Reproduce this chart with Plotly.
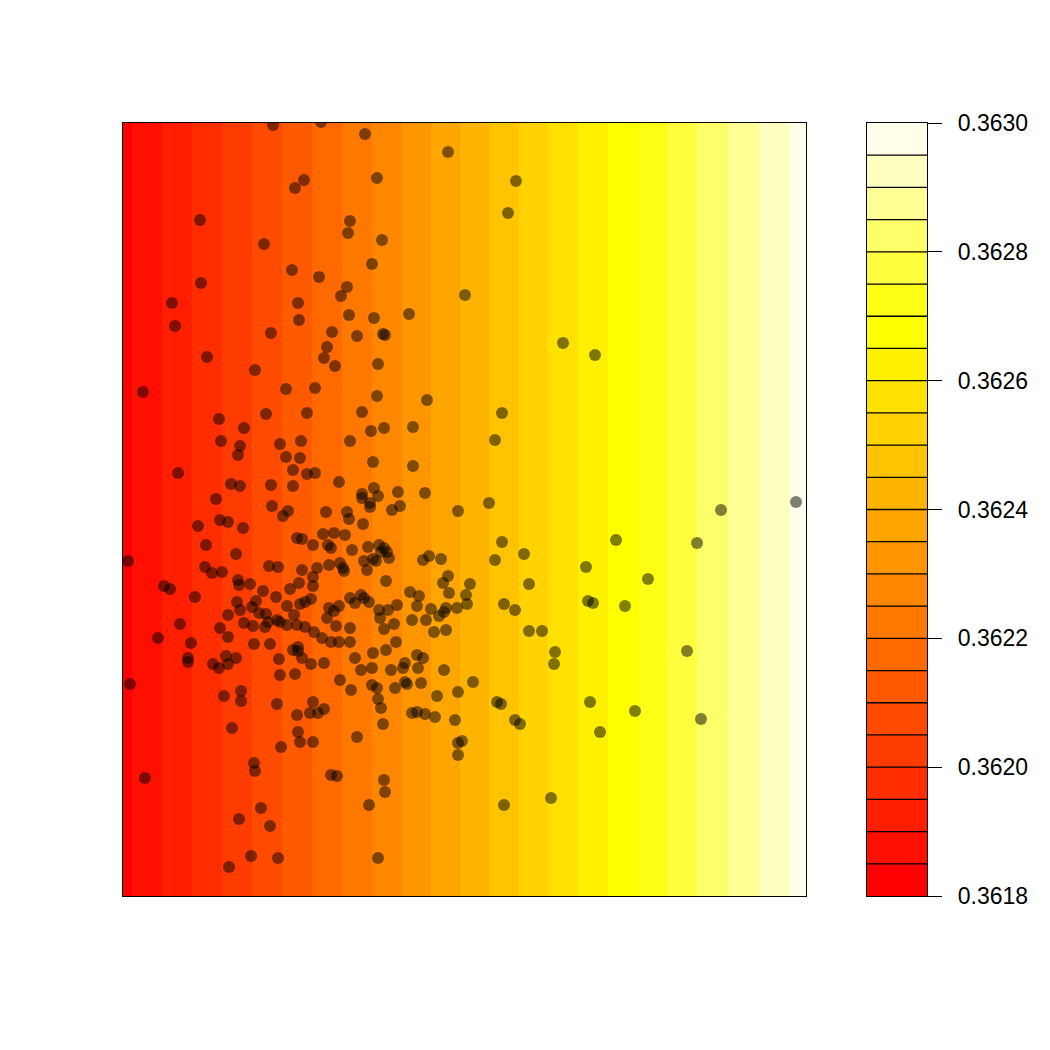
import plotly.graph_objects as go

# ---------------- data ----------------
# contour levels (filled.contour style): 0.3618 .. 0.3630 step 0.00005
levels = [0.3618, 0.36185, 0.3619, 0.36195, 0.3620, 0.36205, 0.3621, 0.36215,
          0.3622, 0.36225, 0.3623, 0.36235, 0.3624, 0.36245, 0.3625, 0.36255,
          0.3626, 0.36265, 0.3627, 0.36275, 0.3628, 0.36285, 0.3629, 0.36295, 0.3630]
tick_vals = [0.3618, 0.3620, 0.3622, 0.3624, 0.3626, 0.3628, 0.3630]

# field: x positions where the surface crosses each interior level (surface varies along x only)
field_xmin, field_xmax = 0, 683
field_ymin, field_ymax = 0, 773
level_crossings_x = [9.3, 39.3, 69.3, 99.3, 129.3, 159.3, 189.3, 219.3, 249.3, 279.3,
                     307.7, 337.0, 366.3, 396.0, 425.3, 455.3, 485.3, 515.3, 544.3,
                     574.3, 604.7, 636.0, 667.0]

# heat.colors(24)
heat_colors = ["#FF0000", "#FF0F00", "#FF1E00", "#FF2D00", "#FF3C00", "#FF4B00",
               "#FF5A00", "#FF6900", "#FF7800", "#FF8700", "#FF9600", "#FFA500",
               "#FFB400", "#FFC300", "#FFD200", "#FFE100", "#FFF000", "#FFFF00",
               "#FFFF15", "#FFFF40", "#FFFF6A", "#FFFF95", "#FFFFBF", "#FFFFEA"]

# observation points
pts_x = [150, 198, 242, 181, 172, 254, 77, 227, 225, 141, 259, 169, 249, 78, 196, 224, 218, 49,
         175, 176, 226, 251, 286, 52, 148, 209, 234, 260, 262, 204, 201, 212, 84, 132, 255, 20,
         163, 192, 254, 325, 393, 385, 342, 440, 472, 304, 379, 290, 372, 290, 302, 366, 335,
         598, 673, 96, 121, 143, 98, 117, 115, 157, 163, 178, 177, 170, 55, 108, 117, 148, 170,
         93, 149, 160, 165, 97, 105, 120, 75, 83, 113, 174, 5, 82, 89, 99, 146, 155, 115, 116,
         127, 41, 47, 140, 167, 72, 153, 114, 117, 133, 129, 164, 105, 136, 143, 145, 154, 157,
         164, 121, 130, 142, 57, 97, 105, 35, 68, 131, 147, 170, 65, 65, 103, 113, 90, 96, 105,
         156, 172, 157, 7, 101, 118, 118, 154, 184, 239, 248, 261, 227, 184, 192, 250, 216, 251,
         239, 239, 255, 247, 247, 275, 277, 269, 203, 224, 226, 240, 179, 190, 200, 211, 222,
         205, 208, 229, 245, 256, 261, 264, 266, 258, 241, 250, 253, 244, 206, 217, 220, 221,
         179, 194, 190, 176, 190, 263, 300, 306, 318, 325, 320, 347, 326, 343, 344, 334, 323,
         321, 316, 308, 287, 296, 294, 289, 303, 311, 323, 227, 232, 238, 241, 246, 177, 182,
         188, 204, 206, 211, 216, 171, 174, 182, 256, 265, 274, 257, 261, 271, 213, 227, 191,
         199, 208, 216, 227, 273, 175, 175, 179, 188, 201, 232, 250, 263, 294, 300, 282, 280,
         295, 238, 249, 268, 321, 217, 282, 284, 298, 272, 249, 254, 228, 350, 335, 314, 255,
         258, 190, 201, 195, 187, 174, 289, 294, 302, 312, 332, 260, 109, 175, 177, 190, 158,
         234, 335, 339, 335, 131, 132, 22, 208, 214, 261, 262, 246, 138, 116, 147, 128, 155,
         255, 106, 379, 493, 574, 372, 401, 463, 525, 406, 381, 392, 465, 470, 502, 406, 419,
         432, 431, 564, 374, 378, 467, 512, 578, 392, 397, 477, 381, 428]
pts_y = [771, 774, 762, 716, 708, 718, 676, 675, 663, 652, 656, 626, 632, 613, 619, 609, 600, 593,
         593, 576, 581, 578, 582, 570, 563, 564, 560, 562, 561, 549, 538, 530, 539, 526, 532, 504,
         507, 508, 500, 744, 715, 683, 601, 553, 541, 496, 483, 469, 456, 430, 403, 393, 385,
         386, 394, 477, 468, 482, 455, 450, 441, 452, 439, 455, 438, 426, 423, 412, 410, 411, 410,
         397, 390, 380, 385, 376, 374, 368, 370, 351, 342, 358, 335, 329, 323, 324, 330, 329, 316, 311,
         312, 310, 307, 305, 307, 299, 299, 294, 286, 295, 289, 290, 281, 283, 282, 274, 276, 274,
         271, 273, 270, 269, 272, 268, 259, 258, 253, 252, 252, 246, 238, 234, 240, 238, 232, 228, 232,
         237, 222, 221, 212, 200, 205, 195, 192, 483, 484, 465, 468, 455, 422, 423, 434, 414, 408,
         402, 398, 400, 393, 389, 404, 390, 386, 384, 384, 377, 372, 357, 351, 362, 363, 361,
         351, 348, 346, 349, 351, 348, 344, 338, 344, 335, 337, 335, 326, 331, 333, 328, 325,
         326, 328, 319, 313, 310, 315, 336, 340, 337, 320, 313, 312, 303, 301, 292, 288, 288,
         284, 280, 287, 304, 300, 290, 276, 276, 264, 266, 298, 293, 301, 298, 294, 292, 294,
         297, 278, 288, 285, 290, 281, 271, 269, 286, 286, 291, 278, 267, 272, 270, 268, 264,
         258, 254, 254, 254, 254, 249, 245, 238, 232, 233, 238, 243, 246, 241, 238, 233, 228,
         228, 226, 228, 226, 226, 216, 214, 212, 213, 208, 211, 208, 206, 214, 204, 200, 197,
         188, 194, 187, 183, 183, 181, 183, 184, 182, 179, 176, 172, 168, 164, 154, 154, 149,
         159, 153, 155, 141, 133, 125, 118, 121, 120, 116, 104, 91, 88, 77, 70, 40, 38,
         38, 29, 354, 356, 353, 336, 342, 329, 317, 312, 292, 286, 295, 293, 290, 265, 265,
         244, 232, 245, 194, 192, 194, 185, 177, 176, 172, 164, 91, 98]

# ---------------- derived structures ----------------
band_mid = [(levels[i] + levels[i + 1]) / 2 for i in range(len(levels) - 1)]
n = len(heat_colors)
colorscale = []
for i, c in enumerate(heat_colors):
    colorscale.append([i / n, c])
    colorscale.append([(i + 1) / n, c])

field_x_edges = [field_xmin] + level_crossings_x + [field_xmax]

fig = go.Figure()

# filled surface (bands)
fig.add_trace(go.Heatmap(
    x=field_x_edges, y=[field_ymin, field_ymax], z=[band_mid],
    colorscale=colorscale, zmin=levels[0], zmax=levels[-1],
    showscale=False, hoverinfo="skip", xaxis="x", yaxis="y"))

# points
fig.add_trace(go.Scatter(
    x=pts_x, y=pts_y, mode="markers",
    marker=dict(size=12, color="rgba(0,0,0,0.5)", line=dict(width=0)),
    hoverinfo="skip", xaxis="x", yaxis="y", cliponaxis=True))

# key (colour bar) drawn as its own panel
fig.add_trace(go.Heatmap(
    x=[0, 1], y=levels, z=[[m] for m in band_mid],
    colorscale=colorscale, zmin=levels[0], zmax=levels[-1],
    showscale=False, hoverinfo="skip", xaxis="x2", yaxis="y2"))

sep_x, sep_y = [], []
for lv in levels[1:-1]:
    sep_x += [0, 1, None]
    sep_y += [lv, lv, None]
fig.add_trace(go.Scatter(
    x=sep_x, y=sep_y, mode="lines", line=dict(color="black", width=1.3),
    hoverinfo="skip", xaxis="x2", yaxis="y2"))

W = H = 1050
ax_common = dict(showline=True, mirror=True, linecolor="black", linewidth=1.3,
                 showgrid=False, zeroline=False, ticks="", showticklabels=False)

YDOM = [154 / H, 927 / H]

fig.update_layout(
    width=W, height=H, showlegend=False,
    margin=dict(l=0, r=0, t=0, b=0, autoexpand=False),
    paper_bgcolor="white", plot_bgcolor="white",
    font=dict(family="Liberation Sans, Arial, Helvetica, sans-serif", size=23, color="black"),
    xaxis=dict(domain=[123 / W, 806 / W], range=[field_xmin, field_xmax], anchor="y", **ax_common),
    yaxis=dict(domain=YDOM, range=[field_ymin, field_ymax], anchor="x", **ax_common),
    xaxis2=dict(domain=[867 / W, 927 / W], range=[0, 1], anchor="y2", **ax_common),
    yaxis2=dict(domain=YDOM, range=[levels[0], levels[-1]], anchor="x2",
                side="right", showline=True, mirror=True, linecolor="black", linewidth=1.3,
                showgrid=False, zeroline=False, ticks="outside", ticklen=14, tickwidth=1.3,
                tickcolor="black", tickvals=tick_vals, tickformat=".4f",
                ticklabelstandoff=11,
                tickfont=dict(family="Liberation Sans, Arial, Helvetica, sans-serif", size=23,
                              color="black")),
)

fig.write_html("out.html")
